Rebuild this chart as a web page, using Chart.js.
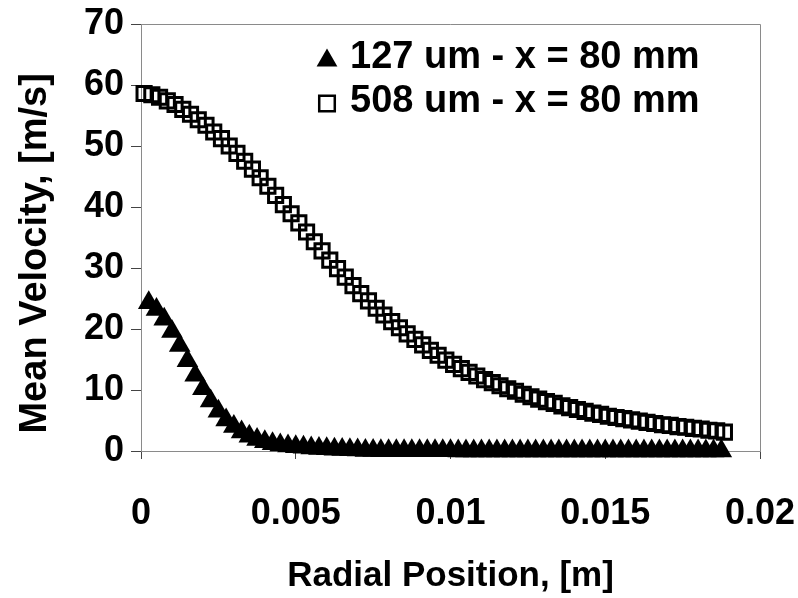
<!DOCTYPE html>
<html>
<head>
<meta charset="utf-8">
<script src="https://cdn.jsdelivr.net/npm/chart.js@4/dist/chart.umd.min.js"></script>
<style>
  html, body { margin: 0; padding: 0; background: #fff; }
  #wrap { width: 798px; height: 598px; }
</style>
</head>
<body>
<div id="wrap"><canvas id="chart" width="798" height="598"></canvas></div>
<script>
// Data
const xTickLabels = ['0', '0.005', '0.01', '0.015', '0.02'];
const yTickLabels = ['0', '10', '20', '30', '40', '50', '60', '70'];

const smallLabel = '127 um - x = 80 mm';
const largeLabel = '508 um - x = 80 mm';

// 127 um nozzle - radial positions [m]
const smallX = [
  0.00025, 0.0005, 0.00075, 0.001, 0.00125, 0.0015, 0.00175, 0.002, 0.00225, 0.0025,
  0.00275, 0.003, 0.00325, 0.0035, 0.00375, 0.004, 0.00425, 0.0045, 0.00475, 0.005,
  0.00525, 0.0055, 0.00575, 0.006, 0.00625, 0.0065, 0.00675, 0.007, 0.00725, 0.0075,
  0.00775, 0.008, 0.00825, 0.0085, 0.00875, 0.009, 0.00925, 0.0095, 0.00975, 0.01,
  0.01025, 0.0105, 0.01075, 0.011, 0.01125, 0.0115, 0.01175, 0.012, 0.01225, 0.0125,
  0.01275, 0.013, 0.01325, 0.0135, 0.01375, 0.014, 0.01425, 0.0145, 0.01475, 0.015,
  0.01525, 0.0155, 0.01575, 0.016, 0.01625, 0.0165, 0.01675, 0.017, 0.01725, 0.0175,
  0.01775, 0.018, 0.01825, 0.0185, 0.01875
];
// 127 um nozzle - mean velocity [m/s]
const smallV = [
  24.3, 23.2, 21.6, 19.6, 17.3, 14.8, 12.4, 10.2, 8.2, 6.5,
  5.1, 4.0, 3.1, 2.4, 1.9, 1.5, 1.2, 1.0, 0.8, 0.7,
  0.6, 0.5, 0.4, 0.35, 0.3, 0.25, 0.2, 0.15, 0.1, 0.1,
  0.05, 0.05, 0.05, 0.05, 0.05, 0.05, 0.05, 0.05, 0.05, 0.05,
  0.0, 0.0, 0.0, 0.0, 0.0, 0.0, 0.0, 0.0, 0.0, 0.0,
  0.0, 0.0, 0.0, 0.0, 0.0, 0.0, 0.0, 0.0, 0.0, 0.0,
  0.0, 0.0, 0.0, 0.0, 0.0, 0.0, 0.0, 0.0, 0.0, 0.0,
  0.0, 0.0, 0.0, 0.0, 0.0
];

// 508 um nozzle - radial positions [m]
const largeX = [
  0.0001, 0.00035, 0.0006, 0.00085, 0.0011, 0.00135, 0.0016, 0.00185, 0.0021, 0.00235,
  0.0026, 0.00285, 0.0031, 0.00335, 0.0036, 0.00385, 0.0041, 0.00435, 0.0046, 0.00485,
  0.0051, 0.00535, 0.0056, 0.00585, 0.0061, 0.00635, 0.0066, 0.00685, 0.0071, 0.00735,
  0.0076, 0.00785, 0.0081, 0.00835, 0.0086, 0.00885, 0.0091, 0.00935, 0.0096, 0.00985,
  0.0101, 0.01035, 0.0106, 0.01085, 0.0111, 0.01135, 0.0116, 0.01185, 0.0121, 0.01235,
  0.0126, 0.01285, 0.0131, 0.01335, 0.0136, 0.01385, 0.0141, 0.01435, 0.0146, 0.01485,
  0.0151, 0.01535, 0.0156, 0.01585, 0.0161, 0.01635, 0.0166, 0.01685, 0.0171, 0.01735,
  0.0176, 0.01785, 0.0181, 0.01835, 0.0186, 0.01885
];
// 508 um nozzle - mean velocity [m/s]
const largeV = [
  58.6, 58.4, 58.0, 57.4, 56.8, 56.0, 55.2, 54.3, 53.4, 52.3,
  51.2, 50.0, 48.8, 47.5, 46.2, 44.8, 43.4, 41.9, 40.4, 38.9,
  37.4, 35.9, 34.3, 32.8, 31.3, 29.9, 28.5, 27.1, 25.8, 24.6,
  23.4, 22.3, 21.2, 20.2, 19.2, 18.3, 17.4, 16.5, 15.7, 14.9,
  14.2, 13.5, 12.9, 12.3, 11.7, 11.2, 10.7, 10.2, 9.8, 9.3,
  8.9, 8.5, 8.1, 7.8, 7.4, 7.1, 6.8, 6.5, 6.2, 6.0,
  5.7, 5.5, 5.3, 5.1, 4.9, 4.7, 4.5, 4.3, 4.2, 4.0,
  3.9, 3.7, 3.6, 3.4, 3.3, 3.1
];

const FONT = "'Liberation Sans', Arial, sans-serif";

function toPoints(xs, ys) {
  return xs.map((x, i) => ({ x: x, y: ys[i] }));
}

// box round the plot (top + right edges)
const frame = {
  id: 'frame',
  beforeDatasetsDraw(chart) {
    const { ctx, chartArea: a } = chart;
    ctx.save();
    ctx.strokeStyle = '#8a8a8a';
    ctx.lineWidth = 1;
    ctx.beginPath();
    ctx.moveTo(a.left, a.top + 0.5);
    ctx.lineTo(a.right + 0.5, a.top + 0.5);
    ctx.lineTo(a.right + 0.5, a.bottom);
    ctx.stroke();
    ctx.restore();
  }
};

// legend drawn inside the plot, upper right
const innerLegend = {
  id: 'innerLegend',
  afterDatasetsDraw(chart) {
    const { ctx, chartArea: a } = chart;
    const rows = [
      { style: 'triangle', r: 12, fill: '#000', bw: 0, dy: 3 },
      { style: 'rect', r: 11, fill: 'rgba(0,0,0,0)', bw: 2.5, dy: 2 }
    ];
    ctx.save();
    ctx.font = 'bold 38px ' + FONT;
    ctx.textBaseline = 'middle';
    ctx.textAlign = 'left';
    chart.data.datasets.forEach((ds, i) => {
      const y = a.top + 33.5 + i * 44;
      const m = rows[i];
      ctx.fillStyle = m.fill;
      ctx.strokeStyle = '#000';
      ctx.lineWidth = m.bw;
      Chart.helpers.drawPoint(ctx, { pointStyle: m.style, radius: m.r, borderWidth: m.bw, rotation: 0 }, a.left + 186, y + m.dy);
      ctx.fillStyle = '#000';
      ctx.fillText(ds.label, a.left + 209, y);
    });
    ctx.restore();
  }
};

const ctx = document.getElementById('chart');

new Chart(ctx, {
  type: 'scatter',
  data: {
    datasets: [
      {
        label: smallLabel,
        data: toPoints(smallX, smallV),
        pointStyle: 'triangle',
        pointRadius: 12.5,
        backgroundColor: '#000',
        borderColor: '#000',
        borderWidth: 0,
        clip: false
      },
      {
        label: largeLabel,
        data: toPoints(largeX, largeV),
        pointStyle: 'rect',
        pointRadius: 10,
        backgroundColor: 'rgba(0,0,0,0)',
        borderColor: '#000',
        borderWidth: 3,
        clip: false
      }
    ]
  },
  options: {
    responsive: false,
    animation: false,
    layout: { padding: { top: 24, right: 38, left: 0, bottom: 0 } },
    plugins: {
      legend: { display: false },
      tooltip: { enabled: false }
    },
    scales: {
      x: {
        type: 'linear',
        min: 0,
        max: 0.02,
        afterFit: (s) => { s.height = 147; s.paddingLeft = 0; s.paddingRight = 0; },
        ticks: {
          stepSize: 0.005,
          padding: 33,
          color: '#000',
          font: { family: FONT, size: 36, weight: 'bold' },
          maxRotation: 0,
          callback: (v, i) => xTickLabels[i]
        },
        grid: { drawOnChartArea: false, drawTicks: true, tickLength: 8, color: '#444' },
        border: { display: true, color: '#8a8a8a', width: 1 },
        title: {
          display: true,
          text: 'Radial Position, [m]',
          color: '#000',
          font: { family: FONT, size: 35, weight: 'bold' },
          padding: { top: 0, bottom: 1 }
        }
      },
      y: {
        min: 0,
        max: 70,
        afterFit: (s) => { s.width = 141; s.paddingTop = 0; s.paddingBottom = 0; },
        ticks: {
          stepSize: 10,
          padding: 7,
          color: '#000',
          font: { family: FONT, size: 36, weight: 'bold' },
          callback: (v, i) => yTickLabels[i]
        },
        grid: { drawOnChartArea: false, drawTicks: true, tickLength: 10, color: '#444' },
        border: { display: true, color: '#8a8a8a', width: 1 },
        title: {
          display: true,
          text: 'Mean Velocity, [m/s]   ',
          color: '#000',
          font: { family: FONT, size: 38, weight: 'bold' },
          padding: { top: 13, bottom: 0 }
        }
      }
    }
  },
  plugins: [frame, innerLegend]
});
</script>
</body>
</html>
